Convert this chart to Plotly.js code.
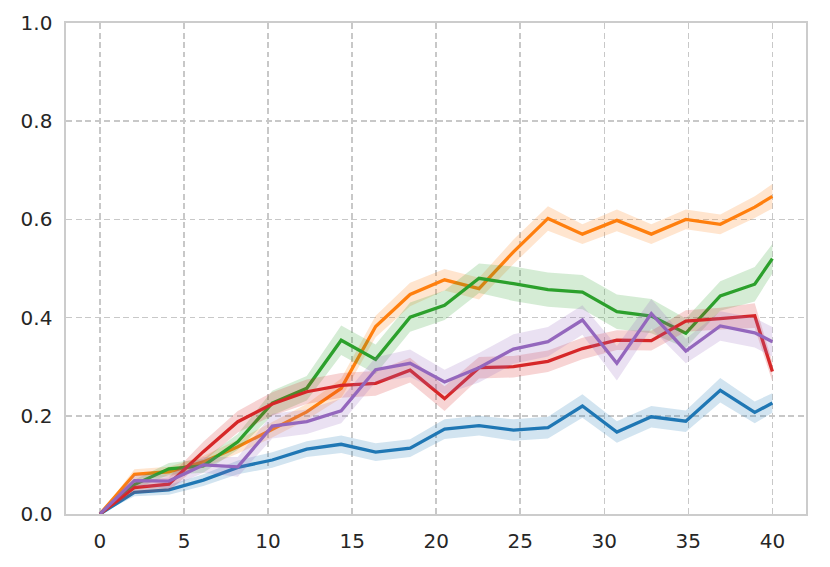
<!DOCTYPE html>
<html>
<head>
<meta charset="utf-8">
<script src="https://cdn.plot.ly/plotly-3.0.1.min.js"></script>
<style>
  html, body { margin: 0; padding: 0; background: #fff; }
  #chart { width: 830px; height: 567px; }
</style>
</head>
<body>
<div id="chart"></div>
<script>
// steps (x) shared by all runs
const steps = [0, 2.05, 4.1, 6.15, 8.2, 10.25, 12.3, 14.35, 16.4, 18.45, 20.5,
               22.55, 24.6, 26.65, 28.7, 30.75, 32.8, 34.85, 36.9, 38.95, 40];

// mean curves
const blueMean   = [0, 0.044, 0.049, 0.069, 0.095, 0.110, 0.132, 0.142, 0.126, 0.134, 0.173,
                    0.180, 0.171, 0.176, 0.220, 0.167, 0.198, 0.189, 0.252, 0.207, 0.226];
const orangeMean = [0, 0.081, 0.086, 0.106, 0.137, 0.172, 0.208, 0.256, 0.382, 0.447, 0.477,
                    0.459, 0.534, 0.602, 0.570, 0.598, 0.570, 0.600, 0.590, 0.625, 0.647];
const greenMean  = [0, 0.060, 0.092, 0.098, 0.147, 0.226, 0.256, 0.354, 0.315, 0.401, 0.425,
                    0.480, 0.469, 0.457, 0.452, 0.412, 0.403, 0.368, 0.444, 0.468, 0.520];
const redMean    = [0, 0.054, 0.061, 0.127, 0.188, 0.224, 0.249, 0.262, 0.266, 0.293, 0.235,
                    0.298, 0.300, 0.311, 0.337, 0.354, 0.353, 0.393, 0.398, 0.404, 0.290];
const purpleMean = [0, 0.068, 0.067, 0.100, 0.096, 0.179, 0.188, 0.210, 0.294, 0.307, 0.269,
                    0.298, 0.336, 0.351, 0.395, 0.307, 0.408, 0.332, 0.383, 0.369, 0.351];

// half-width of the shaded band around each mean
const blueErr   = [0, 0.008, 0.010, 0.012, 0.014, 0.016, 0.016, 0.018, 0.018, 0.018, 0.020,
                   0.020, 0.022, 0.022, 0.024, 0.022, 0.022, 0.022, 0.025, 0.022, 0.020];
const orangeErr = [0, 0.010, 0.010, 0.012, 0.014, 0.016, 0.016, 0.020, 0.022, 0.024, 0.022,
                   0.022, 0.025, 0.025, 0.020, 0.022, 0.020, 0.020, 0.020, 0.022, 0.025];
const greenErr  = [0, 0.010, 0.012, 0.014, 0.016, 0.025, 0.025, 0.030, 0.030, 0.030, 0.030,
                   0.030, 0.035, 0.035, 0.035, 0.035, 0.035, 0.030, 0.030, 0.035, 0.030];
const redErr    = [0, 0.012, 0.014, 0.020, 0.022, 0.024, 0.025, 0.025, 0.025, 0.025, 0.025,
                   0.022, 0.022, 0.022, 0.022, 0.020, 0.020, 0.022, 0.022, 0.025, 0.020];
const purpleErr = [0, 0.012, 0.014, 0.016, 0.020, 0.025, 0.025, 0.025, 0.025, 0.028, 0.025,
                   0.030, 0.030, 0.030, 0.030, 0.035, 0.030, 0.025, 0.030, 0.030, 0.030];

const series = [
    { mean: blueMean,   err: blueErr,   color: '#1f77b4', fill: 'rgba(31,119,180,0.2)' },
    { mean: orangeMean, err: orangeErr, color: '#ff7f0e', fill: 'rgba(255,127,14,0.2)' },
    { mean: greenMean,  err: greenErr,  color: '#2ca02c', fill: 'rgba(44,160,44,0.2)' },
    { mean: redMean,    err: redErr,    color: '#d62728', fill: 'rgba(214,39,40,0.2)' },
    { mean: purpleMean, err: purpleErr, color: '#9467bd', fill: 'rgba(148,103,189,0.2)' }
];

const data = [];
series.forEach(s => {
    // band as one closed polygon: upper edge forward, lower edge back
    const upper = s.mean.map((m, i) => m + s.err[i]);
    const lower = s.mean.map((m, i) => m - s.err[i]);
    data.push({
        x: steps.concat(steps.slice().reverse()),
        y: upper.concat(lower.slice().reverse()),
        type: 'scatter', mode: 'lines',
        fill: 'toself', fillcolor: s.fill,
        line: { width: 0 },
        hoverinfo: 'skip', showlegend: false
    });
    data.push({
        x: steps, y: s.mean,
        type: 'scatter', mode: 'lines',
        line: { color: s.color, width: 3.3 },
        showlegend: false
    });
});

const axisCommon = {
    showgrid: true,
    gridcolor: '#c8c8c8',
    gridwidth: 1.5,
    griddash: '6px,3.5px',
    zeroline: false,
    showline: true,
    mirror: true,
    linecolor: '#cccccc',
    linewidth: 1.6,
    ticks: '',
    tickfont: { family: 'DejaVu Sans', size: 20, color: '#262626' }
};

const layout = {
    width: 830, height: 567,
    paper_bgcolor: '#ffffff',
    plot_bgcolor: '#ffffff',
    margin: { l: 66, r: 24, t: 23, b: 53 },
    xaxis: Object.assign({}, axisCommon, {
        range: [-2.02, 42.0],
        tickvals: [0, 5, 10, 15, 20, 25, 30, 35, 40],
        ticklabelstandoff: 8
    }),
    yaxis: Object.assign({}, axisCommon, {
        range: [0, 1.0],
        tickvals: [0, 0.2, 0.4, 0.6, 0.8, 1.0],
        tickformat: '.1f',
        ticklabelstandoff: 8
    })
};

Plotly.newPlot('chart', data, layout, { displayModeBar: false, staticPlot: true });
</script>
</body>
</html>
